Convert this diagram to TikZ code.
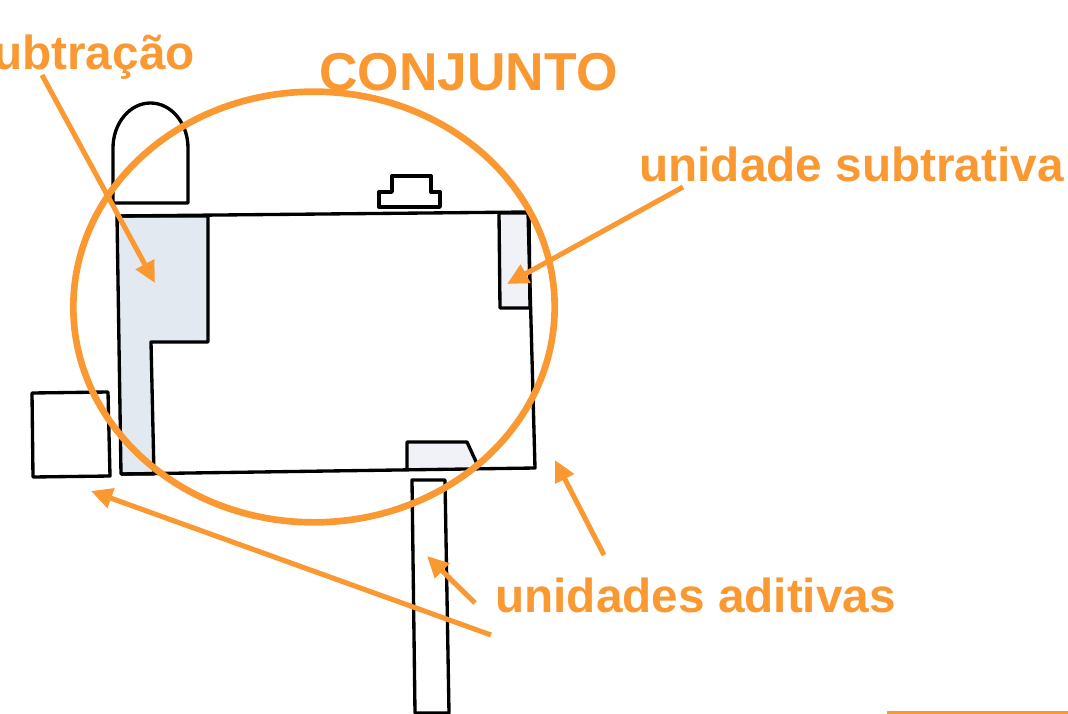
\documentclass[tikz,border=0pt]{standalone}
\usepackage{fontspec}
\setmainfont{Liberation Sans}
\usetikzlibrary{arrows.meta,shapes.geometric}
\definecolor{laranja}{RGB}{250,152,50}
\definecolor{cinza}{RGB}{226,233,241}
\definecolor{claro}{RGB}{240,242,248}
\tikzset{
  peca/.style={draw=black,line width=2.5pt,line join=round},
  seta/.style={draw=laranja,line width=3.8pt,-{Triangle[length=16pt,width=15pt]}},
  rotulo/.style={text=laranja,font=\fontsize{35.8}{42}\selectfont\bfseries,inner sep=0pt},
}
\begin{document}
\begin{tikzpicture}[x=.75pt,y=-.75pt]
      \useasboundingbox (0,0) rectangle (1068,714);

      % figura
      \begin{scope}[every path/.style={peca}]
        \draw (113,203) -- (113,148) arc[start angle=180,end angle=360,x radius=37.5,y radius=45] -- (188,203) -- cycle;
        \draw (32,393) -- (108,392) -- (110,476) -- (33,477) -- cycle;
        \draw (379,207) -- (379,192) -- (392,192) -- (392,176) -- (431,176) -- (431,192) -- (440,192) -- (440,207) -- cycle;
        \draw[fill=cinza] (117,216) -- (208,216) -- (208,342) -- (151,342) -- (154,474) -- (121,474) -- cycle;
        \draw[fill=claro] (499,213) -- (529,213) -- (530,308) -- (500,308) -- cycle;
        \draw[fill=claro] (407,469) -- (407,442) -- (467,442) -- (478,466);
        \draw (117,216) -- (528,212) -- (535,468) -- (121,474);
        \draw (412,480) -- (445,480) -- (449,713) -- (415,713) -- cycle;
      \end{scope}

      % rotulos
      \node[rotulo,anchor=base east] (subtracao) at (195,69) {subtração};
      \node[rotulo,anchor=base west,font=\fontsize{40}{48}\selectfont\bfseries] (conjunto) at (319,90) {CONJUNTO};
      \node[rotulo,anchor=base west] (subtrativa) at (639,181) {unidade subtrativa};
      \node[rotulo,anchor=base west] (aditivas) at (495,612) {unidades aditivas};

      \node[draw=laranja,line width=5pt,ellipse,inner sep=0pt,
            minimum width=361pt,minimum height=323pt] (circulo) at (314,307) {};

      \coordinate (a1) at (42,75);
      \coordinate (a2) at (155,283);
      \coordinate (b1) at (683,187);
      \coordinate (b2) at (507,284);
      \coordinate (c1) at (604,555);
      \coordinate (c2) at (555,460);
      \coordinate (d1) at (475,603);
      \coordinate (d2) at (427,556);
      \coordinate (e1) at (491,635);
      \coordinate (e2) at (91,491);
      \coordinate (f1) at (887,712.5);
      \coordinate (f2) at (1068,712.5);

      \path (a1) edge[seta] (a2);
      \path (b1) edge[seta] (b2);
      \path (c1) edge[seta] (c2);
      \path (d1) edge[seta] (d2);
      \path (e1) edge[seta] (e2);
      \draw[laranja,line width=2pt] (f1) -- (f2);

    \end{tikzpicture}
\end{document}
